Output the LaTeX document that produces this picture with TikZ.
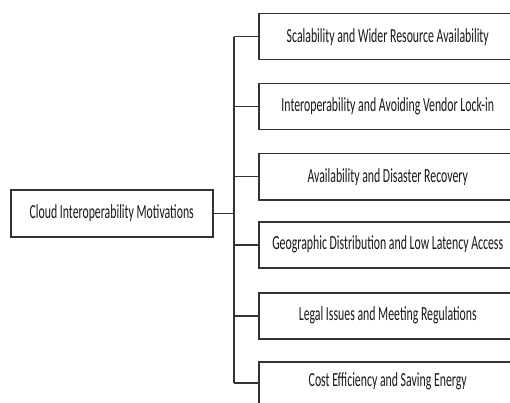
\documentclass[tikz,border=0pt]{standalone}
\usepackage{fontspec}
\setmainfont{Carlito}
\begin{document}
\begin{tikzpicture}[x=1pt,y=-1pt,
  box/.style={draw=black!80, line width=1.5pt, fill=white, minimum width=258pt, minimum height=46pt, inner sep=0pt},
  rbox/.style={box, anchor=north west},
  lbl/.style={font=\fontsize{20}{22}\selectfont, text=black!90},
  conn/.style={draw=black!80, line width=1.5pt}]
\useasboundingbox (0,0) rectangle (510,403);
\clip (0,0) rectangle (510,403);
\fill[white] (0,0) rectangle (510,403);
\node[box, minimum width=202pt, minimum height=47pt, anchor=north west] (root) at (10,189) {};
\node[lbl] at (root.center) {\scalebox{0.59}[1]{Cloud Interoperability Motivations}};
\node[rbox] (b1) at (258,13) {};
\node[rbox] (b2) at (258,83) {};
\node[rbox] (b3) at (258,153) {};
\node[rbox] (b4) at (258,221) {};
\node[rbox] (b5) at (258,292) {};
\node[rbox] (b6) at (258,361) {};
\node[lbl] at (b1.center) {\scalebox{0.59}[1]{Scalability and Wider Resource Availability}};
\node[lbl] at (b2.center) {\scalebox{0.59}[1]{Interoperability and Avoiding Vendor Lock-in}};
\node[lbl] at (b3.center) {\scalebox{0.59}[1]{Availability and Disaster Recovery}};
\node[lbl] at (b4.center) {\scalebox{0.59}[1]{Geographic Distribution and Low Latency Access}};
\node[lbl] at (b5.center) {\scalebox{0.59}[1]{Legal Issues and Meeting Regulations}};
\node[lbl] at ([yshift=3pt]b6.center) {\scalebox{0.59}[1]{Cost Efficiency and Saving Energy}};
\coordinate (trunk) at (234,0);
\draw[conn] (root.east) -- (root.east -| trunk);
\draw[conn] (b1.west -| trunk) -- ([yshift=-22pt]b6.north west -| trunk);
\foreach \b in {b1,b2,b3,b4,b5} \draw[conn] (\b.west -| trunk) -- (\b.west);
\draw[conn] ([yshift=-22pt]b6.north west -| trunk) -- ([yshift=-22pt]b6.north west);
\end{tikzpicture}
\end{document}
